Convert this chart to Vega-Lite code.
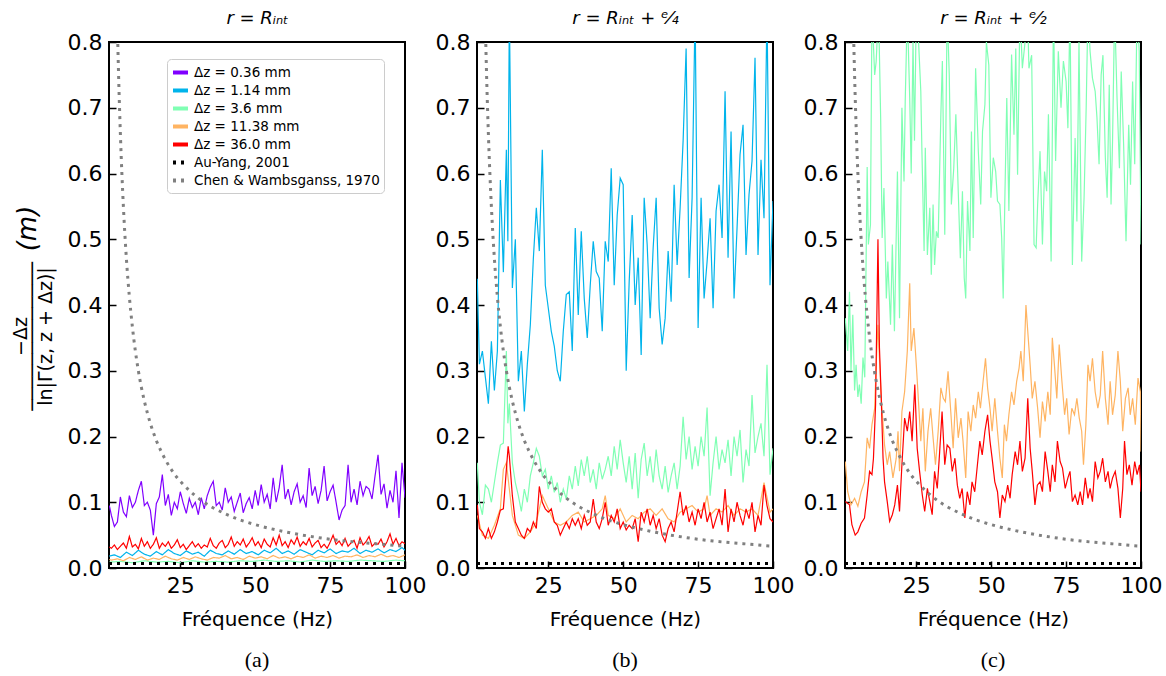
{
"$schema": "https://vega.github.io/schema/vega-lite/v6.json",
"padding": {"left": 10, "top": 8, "right": 5, "bottom": 0},
"config": {
  "font": "DejaVu Sans",
  "view": {"stroke": "#000000", "strokeWidth": 2},
  "axis": {"grid": false, "domain": false, "tickColor": "#000000", "tickWidth": 1.5, "tickSize": -7, "labelPadding": 14, "labelFlush": false, "labelFont": "DejaVu Sans", "labelFontSize": 22, "labelColor": "#000000", "titleFont": "DejaVu Sans", "titleFontSize": 20, "titleFontWeight": "normal", "titleColor": "#000000", "labelOverlap": false}
},
"datasets": {
"au": [{"f":1.2,"v":0.007},{"f":100,"v":0.007}],
"chen": [{"f":3.5,"v":0.943},{"f":4,"v":0.825},{"f":4.5,"v":0.733},{"f":5,"v":0.66},{"f":5.5,"v":0.6},{"f":6,"v":0.55},{"f":7,"v":0.471},{"f":8,"v":0.4125},{"f":9,"v":0.367},{"f":10,"v":0.33},{"f":11,"v":0.3},{"f":12,"v":0.275},{"f":13,"v":0.254},{"f":14,"v":0.236},{"f":15,"v":0.22},{"f":17,"v":0.194},{"f":20,"v":0.165},{"f":23,"v":0.143},{"f":26,"v":0.127},{"f":30,"v":0.11},{"f":35,"v":0.094},{"f":40,"v":0.0825},{"f":45,"v":0.073},{"f":50,"v":0.066},{"f":60,"v":0.055},{"f":70,"v":0.047},{"f":80,"v":0.041},{"f":90,"v":0.037},{"f":100,"v":0.033}],
"aP": [{"f":1.3,"v":0.095},{"f":2,"v":0.08},{"f":3,"v":0.063},{"f":4,"v":0.07},{"f":5,"v":0.108},{"f":6,"v":0.085},{"f":7,"v":0.078},{"f":8,"v":0.11},{"f":9,"v":0.092},{"f":10,"v":0.1},{"f":11,"v":0.118},{"f":12,"v":0.132},{"f":13,"v":0.095},{"f":14,"v":0.1},{"f":15,"v":0.088},{"f":16,"v":0.05},{"f":17,"v":0.098},{"f":18,"v":0.108},{"f":19,"v":0.142},{"f":20,"v":0.095},{"f":21,"v":0.112},{"f":22,"v":0.08},{"f":23,"v":0.1},{"f":24,"v":0.09},{"f":25,"v":0.116},{"f":26,"v":0.098},{"f":27,"v":0.083},{"f":28,"v":0.106},{"f":29,"v":0.092},{"f":30,"v":0.1},{"f":31,"v":0.081},{"f":32,"v":0.107},{"f":33,"v":0.09},{"f":34,"v":0.11},{"f":35,"v":0.123},{"f":36,"v":0.132},{"f":37,"v":0.095},{"f":38,"v":0.1},{"f":39,"v":0.088},{"f":40,"v":0.122},{"f":41,"v":0.1},{"f":42,"v":0.108},{"f":43,"v":0.086},{"f":44,"v":0.1},{"f":45,"v":0.114},{"f":46,"v":0.084},{"f":47,"v":0.098},{"f":48,"v":0.107},{"f":49,"v":0.09},{"f":50,"v":0.118},{"f":51,"v":0.095},{"f":52,"v":0.127},{"f":53,"v":0.1},{"f":54,"v":0.112},{"f":55,"v":0.09},{"f":56,"v":0.137},{"f":57,"v":0.1},{"f":58,"v":0.122},{"f":59,"v":0.157},{"f":60,"v":0.105},{"f":61,"v":0.12},{"f":62,"v":0.096},{"f":63,"v":0.116},{"f":64,"v":0.128},{"f":65,"v":0.1},{"f":66,"v":0.11},{"f":67,"v":0.092},{"f":68,"v":0.152},{"f":69,"v":0.11},{"f":70,"v":0.124},{"f":71,"v":0.098},{"f":72,"v":0.118},{"f":73,"v":0.155},{"f":74,"v":0.102},{"f":75,"v":0.116},{"f":76,"v":0.126},{"f":77,"v":0.1},{"f":78,"v":0.073},{"f":79,"v":0.088},{"f":80,"v":0.095},{"f":81,"v":0.157},{"f":82,"v":0.1},{"f":83,"v":0.12},{"f":84,"v":0.096},{"f":85,"v":0.132},{"f":86,"v":0.11},{"f":87,"v":0.124},{"f":88,"v":0.12},{"f":89,"v":0.105},{"f":90,"v":0.14},{"f":91,"v":0.172},{"f":92,"v":0.112},{"f":93,"v":0.128},{"f":94,"v":0.091},{"f":95,"v":0.118},{"f":96,"v":0.1},{"f":97,"v":0.148},{"f":98,"v":0.076},{"f":99,"v":0.16},{"f":100,"v":0.107}],
"aR": [{"f":1.3,"v":0.032},{"f":2,"v":0.03},{"f":3,"v":0.035},{"f":4,"v":0.028},{"f":5,"v":0.033},{"f":6,"v":0.038},{"f":7,"v":0.03},{"f":8,"v":0.048},{"f":9,"v":0.032},{"f":10,"v":0.036},{"f":11,"v":0.029},{"f":12,"v":0.045},{"f":13,"v":0.033},{"f":14,"v":0.04},{"f":15,"v":0.03},{"f":16,"v":0.036},{"f":17,"v":0.046},{"f":18,"v":0.03},{"f":19,"v":0.038},{"f":20,"v":0.033},{"f":21,"v":0.04},{"f":22,"v":0.03},{"f":23,"v":0.035},{"f":24,"v":0.043},{"f":25,"v":0.031},{"f":26,"v":0.036},{"f":27,"v":0.028},{"f":28,"v":0.034},{"f":29,"v":0.04},{"f":30,"v":0.032},{"f":31,"v":0.037},{"f":32,"v":0.03},{"f":33,"v":0.035},{"f":34,"v":0.032},{"f":35,"v":0.045},{"f":36,"v":0.034},{"f":37,"v":0.03},{"f":38,"v":0.038},{"f":39,"v":0.042},{"f":40,"v":0.031},{"f":41,"v":0.036},{"f":42,"v":0.047},{"f":43,"v":0.033},{"f":44,"v":0.04},{"f":45,"v":0.035},{"f":46,"v":0.044},{"f":47,"v":0.032},{"f":48,"v":0.038},{"f":49,"v":0.046},{"f":50,"v":0.034},{"f":51,"v":0.04},{"f":52,"v":0.031},{"f":53,"v":0.044},{"f":54,"v":0.036},{"f":55,"v":0.032},{"f":56,"v":0.046},{"f":57,"v":0.035},{"f":58,"v":0.05},{"f":59,"v":0.034},{"f":60,"v":0.04},{"f":61,"v":0.031},{"f":62,"v":0.043},{"f":63,"v":0.036},{"f":64,"v":0.047},{"f":65,"v":0.033},{"f":66,"v":0.04},{"f":67,"v":0.035},{"f":68,"v":0.045},{"f":69,"v":0.032},{"f":70,"v":0.038},{"f":71,"v":0.042},{"f":72,"v":0.031},{"f":73,"v":0.036},{"f":74,"v":0.03},{"f":75,"v":0.039},{"f":76,"v":0.05},{"f":77,"v":0.036},{"f":78,"v":0.041},{"f":79,"v":0.034},{"f":80,"v":0.045},{"f":81,"v":0.033},{"f":82,"v":0.038},{"f":83,"v":0.042},{"f":84,"v":0.03},{"f":85,"v":0.046},{"f":86,"v":0.035},{"f":87,"v":0.04},{"f":88,"v":0.048},{"f":89,"v":0.033},{"f":90,"v":0.038},{"f":91,"v":0.036},{"f":92,"v":0.044},{"f":93,"v":0.032},{"f":94,"v":0.04},{"f":95,"v":0.052},{"f":96,"v":0.036},{"f":97,"v":0.045},{"f":98,"v":0.034},{"f":99,"v":0.04},{"f":100,"v":0.037}],
"aB": [{"f":1.3,"v":0.018},{"f":3,"v":0.02},{"f":5,"v":0.016},{"f":7,"v":0.024},{"f":9,"v":0.019},{"f":11,"v":0.027},{"f":13,"v":0.021},{"f":15,"v":0.018},{"f":17,"v":0.025},{"f":19,"v":0.02},{"f":21,"v":0.028},{"f":23,"v":0.022},{"f":25,"v":0.019},{"f":27,"v":0.026},{"f":29,"v":0.021},{"f":31,"v":0.024},{"f":33,"v":0.018},{"f":35,"v":0.027},{"f":37,"v":0.022},{"f":39,"v":0.02},{"f":41,"v":0.026},{"f":43,"v":0.021},{"f":45,"v":0.028},{"f":47,"v":0.022},{"f":49,"v":0.025},{"f":51,"v":0.02},{"f":53,"v":0.027},{"f":55,"v":0.023},{"f":57,"v":0.03},{"f":59,"v":0.022},{"f":61,"v":0.026},{"f":63,"v":0.021},{"f":65,"v":0.028},{"f":67,"v":0.024},{"f":69,"v":0.02},{"f":71,"v":0.027},{"f":73,"v":0.023},{"f":75,"v":0.029},{"f":77,"v":0.022},{"f":79,"v":0.026},{"f":81,"v":0.024},{"f":83,"v":0.03},{"f":85,"v":0.022},{"f":87,"v":0.027},{"f":89,"v":0.024},{"f":91,"v":0.029},{"f":93,"v":0.023},{"f":95,"v":0.028},{"f":97,"v":0.025},{"f":99,"v":0.031},{"f":100,"v":0.027}],
"aO": [{"f":1.3,"v":0.013},{"f":2,"v":0.012},{"f":4,"v":0.014},{"f":6,"v":0.011},{"f":8,"v":0.016},{"f":10,"v":0.013},{"f":12,"v":0.017},{"f":14,"v":0.012},{"f":16,"v":0.015},{"f":18,"v":0.013},{"f":20,"v":0.018},{"f":22,"v":0.014},{"f":24,"v":0.012},{"f":26,"v":0.016},{"f":28,"v":0.013},{"f":30,"v":0.017},{"f":32,"v":0.014},{"f":34,"v":0.012},{"f":36,"v":0.016},{"f":38,"v":0.015},{"f":40,"v":0.019},{"f":42,"v":0.014},{"f":44,"v":0.016},{"f":46,"v":0.013},{"f":48,"v":0.018},{"f":50,"v":0.015},{"f":52,"v":0.017},{"f":54,"v":0.014},{"f":56,"v":0.019},{"f":58,"v":0.015},{"f":60,"v":0.017},{"f":62,"v":0.014},{"f":64,"v":0.018},{"f":66,"v":0.016},{"f":68,"v":0.02},{"f":70,"v":0.015},{"f":72,"v":0.018},{"f":74,"v":0.016},{"f":76,"v":0.019},{"f":78,"v":0.015},{"f":80,"v":0.018},{"f":82,"v":0.017},{"f":84,"v":0.02},{"f":86,"v":0.016},{"f":88,"v":0.019},{"f":90,"v":0.017},{"f":92,"v":0.021},{"f":94,"v":0.017},{"f":96,"v":0.019},{"f":98,"v":0.016},{"f":100,"v":0.02}],
"aG": [{"f":1.3,"v":0.009},{"f":5,"v":0.01},{"f":9,"v":0.008},{"f":13,"v":0.011},{"f":17,"v":0.009},{"f":21,"v":0.01},{"f":25,"v":0.008},{"f":29,"v":0.011},{"f":33,"v":0.009},{"f":37,"v":0.01},{"f":41,"v":0.009},{"f":45,"v":0.011},{"f":49,"v":0.01},{"f":53,"v":0.012},{"f":57,"v":0.01},{"f":61,"v":0.011},{"f":65,"v":0.009},{"f":69,"v":0.012},{"f":73,"v":0.01},{"f":77,"v":0.011},{"f":81,"v":0.01},{"f":85,"v":0.012},{"f":89,"v":0.011},{"f":93,"v":0.01},{"f":97,"v":0.012},{"f":100,"v":0.011}],
"bB": [{"f":1.3,"v":0.44},{"f":2,"v":0.31},{"f":3,"v":0.33},{"f":4,"v":0.29},{"f":5,"v":0.25},{"f":6,"v":0.345},{"f":7,"v":0.27},{"f":8,"v":0.33},{"f":9,"v":0.59},{"f":10,"v":0.45},{"f":11,"v":0.636},{"f":11.5,"v":0.497},{"f":12,"v":0.85},{"f":13,"v":0.426},{"f":14,"v":0.5},{"f":15,"v":0.284},{"f":16,"v":0.33},{"f":17,"v":0.238},{"f":18,"v":0.31},{"f":19,"v":0.37},{"f":20,"v":0.47},{"f":21,"v":0.548},{"f":22,"v":0.482},{"f":23,"v":0.636},{"f":24,"v":0.43},{"f":25,"v":0.395},{"f":26,"v":0.36},{"f":27,"v":0.337},{"f":28,"v":0.3},{"f":29,"v":0.284},{"f":30,"v":0.36},{"f":31,"v":0.416},{"f":32,"v":0.42},{"f":33,"v":0.33},{"f":34,"v":0.517},{"f":35,"v":0.385},{"f":36,"v":0.512},{"f":37,"v":0.41},{"f":38,"v":0.35},{"f":39,"v":0.43},{"f":40,"v":0.497},{"f":41,"v":0.451},{"f":42,"v":0.441},{"f":43,"v":0.36},{"f":44,"v":0.497},{"f":45,"v":0.466},{"f":46,"v":0.608},{"f":47,"v":0.43},{"f":48,"v":0.537},{"f":49,"v":0.593},{"f":50,"v":0.583},{"f":51,"v":0.3},{"f":52,"v":0.436},{"f":53,"v":0.537},{"f":54,"v":0.4},{"f":55,"v":0.472},{"f":56,"v":0.324},{"f":57,"v":0.563},{"f":58,"v":0.492},{"f":59,"v":0.38},{"f":60,"v":0.487},{"f":61,"v":0.563},{"f":62,"v":0.395},{"f":63,"v":0.34},{"f":64,"v":0.38},{"f":65,"v":0.482},{"f":66,"v":0.405},{"f":67,"v":0.583},{"f":68,"v":0.461},{"f":69,"v":0.548},{"f":70,"v":0.65},{"f":71,"v":0.79},{"f":72,"v":0.441},{"f":73,"v":0.563},{"f":74,"v":0.85},{"f":75,"v":0.365},{"f":76,"v":0.563},{"f":77,"v":0.41},{"f":78,"v":0.466},{"f":79,"v":0.532},{"f":80,"v":0.395},{"f":81,"v":0.543},{"f":82,"v":0.583},{"f":83,"v":0.502},{"f":84,"v":0.725},{"f":85,"v":0.472},{"f":86,"v":0.664},{"f":87,"v":0.41},{"f":88,"v":0.517},{"f":89,"v":0.629},{"f":90,"v":0.674},{"f":91,"v":0.476},{"f":92,"v":0.568},{"f":93,"v":0.619},{"f":94,"v":0.776},{"f":95,"v":0.476},{"f":96,"v":0.621},{"f":97,"v":0.532},{"f":98,"v":0.85},{"f":99,"v":0.43},{"f":100,"v":0.558}],
"bG": [{"f":1.3,"v":0.16},{"f":2,"v":0.1},{"f":3,"v":0.081},{"f":4,"v":0.126},{"f":5,"v":0.12},{"f":6,"v":0.1},{"f":7,"v":0.13},{"f":8,"v":0.16},{"f":9,"v":0.187},{"f":10,"v":0.19},{"f":11,"v":0.33},{"f":11.5,"v":0.22},{"f":12,"v":0.25},{"f":13,"v":0.16},{"f":14,"v":0.13},{"f":15,"v":0.11},{"f":16,"v":0.086},{"f":17,"v":0.12},{"f":18,"v":0.1},{"f":19,"v":0.14},{"f":20,"v":0.16},{"f":21,"v":0.182},{"f":22,"v":0.17},{"f":23,"v":0.14},{"f":24,"v":0.15},{"f":25,"v":0.12},{"f":26,"v":0.14},{"f":27,"v":0.115},{"f":28,"v":0.13},{"f":29,"v":0.1},{"f":30,"v":0.12},{"f":31,"v":0.105},{"f":32,"v":0.14},{"f":33,"v":0.12},{"f":34,"v":0.155},{"f":35,"v":0.125},{"f":36,"v":0.165},{"f":37,"v":0.14},{"f":38,"v":0.17},{"f":39,"v":0.13},{"f":40,"v":0.15},{"f":41,"v":0.12},{"f":42,"v":0.16},{"f":43,"v":0.135},{"f":44,"v":0.15},{"f":45,"v":0.17},{"f":46,"v":0.14},{"f":47,"v":0.185},{"f":48,"v":0.15},{"f":49,"v":0.195},{"f":50,"v":0.16},{"f":51,"v":0.13},{"f":52,"v":0.17},{"f":53,"v":0.12},{"f":54,"v":0.175},{"f":55,"v":0.106},{"f":56,"v":0.165},{"f":57,"v":0.19},{"f":58,"v":0.14},{"f":59,"v":0.17},{"f":60,"v":0.13},{"f":61,"v":0.18},{"f":62,"v":0.14},{"f":63,"v":0.12},{"f":64,"v":0.155},{"f":65,"v":0.115},{"f":66,"v":0.14},{"f":67,"v":0.16},{"f":68,"v":0.12},{"f":69,"v":0.155},{"f":70,"v":0.23},{"f":71,"v":0.165},{"f":72,"v":0.2},{"f":73,"v":0.15},{"f":74,"v":0.185},{"f":75,"v":0.155},{"f":76,"v":0.2},{"f":77,"v":0.17},{"f":78,"v":0.244},{"f":79,"v":0.11},{"f":80,"v":0.16},{"f":81,"v":0.2},{"f":82,"v":0.15},{"f":83,"v":0.18},{"f":84,"v":0.16},{"f":85,"v":0.195},{"f":86,"v":0.14},{"f":87,"v":0.2},{"f":88,"v":0.17},{"f":89,"v":0.21},{"f":90,"v":0.13},{"f":91,"v":0.18},{"f":92,"v":0.155},{"f":93,"v":0.263},{"f":94,"v":0.175},{"f":95,"v":0.2},{"f":96,"v":0.22},{"f":97,"v":0.17},{"f":98,"v":0.309},{"f":99,"v":0.142},{"f":100,"v":0.182}],
"bO": [{"f":1.3,"v":0.08},{"f":3,"v":0.05},{"f":5,"v":0.045},{"f":7,"v":0.065},{"f":9,"v":0.09},{"f":10,"v":0.15},{"f":11,"v":0.16},{"f":13,"v":0.08},{"f":15,"v":0.05},{"f":17,"v":0.045},{"f":19,"v":0.055},{"f":21,"v":0.07},{"f":23,"v":0.11},{"f":25,"v":0.09},{"f":27,"v":0.07},{"f":29,"v":0.065},{"f":31,"v":0.07},{"f":33,"v":0.08},{"f":35,"v":0.085},{"f":37,"v":0.07},{"f":39,"v":0.075},{"f":41,"v":0.08},{"f":43,"v":0.09},{"f":44,"v":0.11},{"f":45,"v":0.08},{"f":47,"v":0.075},{"f":49,"v":0.09},{"f":51,"v":0.07},{"f":53,"v":0.08},{"f":55,"v":0.075},{"f":57,"v":0.085},{"f":59,"v":0.09},{"f":61,"v":0.08},{"f":63,"v":0.09},{"f":65,"v":0.075},{"f":67,"v":0.07},{"f":69,"v":0.085},{"f":71,"v":0.09},{"f":73,"v":0.095},{"f":75,"v":0.085},{"f":77,"v":0.09},{"f":78,"v":0.11},{"f":79,"v":0.08},{"f":81,"v":0.09},{"f":83,"v":0.085},{"f":85,"v":0.095},{"f":87,"v":0.08},{"f":89,"v":0.09},{"f":91,"v":0.085},{"f":93,"v":0.09},{"f":95,"v":0.08},{"f":97,"v":0.13},{"f":99,"v":0.085},{"f":100,"v":0.09}],
"bR": [{"f":1.3,"v":0.096},{"f":2,"v":0.06},{"f":3,"v":0.055},{"f":4,"v":0.045},{"f":5,"v":0.06},{"f":6,"v":0.045},{"f":7,"v":0.055},{"f":8,"v":0.07},{"f":9,"v":0.088},{"f":10,"v":0.09},{"f":11,"v":0.15},{"f":11.6,"v":0.185},{"f":12,"v":0.17},{"f":13,"v":0.11},{"f":14,"v":0.07},{"f":15,"v":0.06},{"f":16,"v":0.05},{"f":17,"v":0.045},{"f":18,"v":0.06},{"f":19,"v":0.055},{"f":20,"v":0.07},{"f":21,"v":0.06},{"f":22,"v":0.124},{"f":23,"v":0.1},{"f":24,"v":0.09},{"f":25,"v":0.085},{"f":26,"v":0.09},{"f":27,"v":0.07},{"f":28,"v":0.065},{"f":29,"v":0.05},{"f":30,"v":0.06},{"f":31,"v":0.07},{"f":32,"v":0.06},{"f":33,"v":0.075},{"f":34,"v":0.065},{"f":35,"v":0.075},{"f":36,"v":0.06},{"f":37,"v":0.08},{"f":38,"v":0.065},{"f":39,"v":0.07},{"f":40,"v":0.105},{"f":41,"v":0.07},{"f":42,"v":0.06},{"f":43,"v":0.075},{"f":44,"v":0.1},{"f":45,"v":0.065},{"f":46,"v":0.08},{"f":47,"v":0.07},{"f":48,"v":0.09},{"f":49,"v":0.06},{"f":50,"v":0.07},{"f":51,"v":0.058},{"f":52,"v":0.065},{"f":53,"v":0.06},{"f":54,"v":0.075},{"f":55,"v":0.04},{"f":56,"v":0.085},{"f":57,"v":0.07},{"f":58,"v":0.09},{"f":59,"v":0.065},{"f":60,"v":0.08},{"f":61,"v":0.06},{"f":62,"v":0.075},{"f":63,"v":0.05},{"f":64,"v":0.04},{"f":65,"v":0.06},{"f":66,"v":0.07},{"f":67,"v":0.055},{"f":68,"v":0.085},{"f":69,"v":0.116},{"f":70,"v":0.08},{"f":71,"v":0.095},{"f":72,"v":0.07},{"f":73,"v":0.085},{"f":74,"v":0.065},{"f":75,"v":0.09},{"f":76,"v":0.075},{"f":77,"v":0.1},{"f":78,"v":0.07},{"f":79,"v":0.085},{"f":80,"v":0.06},{"f":81,"v":0.075},{"f":82,"v":0.09},{"f":83,"v":0.065},{"f":84,"v":0.12},{"f":85,"v":0.055},{"f":86,"v":0.09},{"f":87,"v":0.07},{"f":88,"v":0.1},{"f":89,"v":0.08},{"f":90,"v":0.065},{"f":91,"v":0.09},{"f":92,"v":0.075},{"f":93,"v":0.1},{"f":94,"v":0.055},{"f":95,"v":0.08},{"f":96,"v":0.065},{"f":97,"v":0.126},{"f":98,"v":0.095},{"f":99,"v":0.075},{"f":100,"v":0.07}],
"cG": [{"f":1.3,"v":0.38},{"f":2.1,"v":0.33},{"f":2.7,"v":0.42},{"f":3.2,"v":0.3},{"f":3.8,"v":0.385},{"f":4.4,"v":0.27},{"f":4.9,"v":0.309},{"f":5.5,"v":0.26},{"f":6,"v":0.279},{"f":6.6,"v":0.25},{"f":7.2,"v":0.32},{"f":7.8,"v":0.29},{"f":8.6,"v":0.61},{"f":9,"v":0.492},{"f":9.7,"v":0.522},{"f":10.2,"v":0.85},{"f":11.1,"v":0.75},{"f":11.6,"v":0.77},{"f":12.4,"v":0.85},{"f":13.1,"v":0.685},{"f":13.6,"v":0.502},{"f":14.2,"v":0.578},{"f":15,"v":0.41},{"f":15.5,"v":0.466},{"f":16.4,"v":0.37},{"f":17,"v":0.492},{"f":17.7,"v":0.36},{"f":18.7,"v":0.603},{"f":19.4,"v":0.38},{"f":20.2,"v":0.7},{"f":20.9,"v":0.588},{"f":21.3,"v":0.71},{"f":22,"v":0.85},{"f":22.8,"v":0.715},{"f":23.3,"v":0.6},{"f":23.9,"v":0.8},{"f":24.4,"v":0.65},{"f":25,"v":0.85},{"f":25.8,"v":0.796},{"f":26.5,"v":0.725},{"f":26.9,"v":0.629},{"f":27.6,"v":0.482},{"f":28,"v":0.639},{"f":28.7,"v":0.476},{"f":29.5,"v":0.548},{"f":30,"v":0.446},{"f":30.6,"v":0.553},{"f":31.1,"v":0.461},{"f":31.7,"v":0.512},{"f":32.3,"v":0.502},{"f":33.2,"v":0.69},{"f":33.7,"v":0.771},{"f":34.5,"v":0.507},{"f":35.3,"v":0.85},{"f":36,"v":0.75},{"f":36.7,"v":0.553},{"f":37.5,"v":0.608},{"f":38.2,"v":0.69},{"f":39,"v":0.573},{"f":39.7,"v":0.471},{"f":40.4,"v":0.573},{"f":41,"v":0.441},{"f":41.5,"v":0.41},{"f":42.1,"v":0.558},{"f":42.9,"v":0.482},{"f":43.4,"v":0.664},{"f":44,"v":0.502},{"f":44.8,"v":0.76},{"f":45.7,"v":0.634},{"f":46.5,"v":0.553},{"f":47.1,"v":0.664},{"f":47.9,"v":0.705},{"f":48.4,"v":0.8},{"f":49.2,"v":0.765},{"f":49.9,"v":0.563},{"f":50.7,"v":0.624},{"f":51.5,"v":0.603},{"f":52.1,"v":0.558},{"f":52.9,"v":0.553},{"f":53.5,"v":0.502},{"f":54,"v":0.41},{"f":54.6,"v":0.573},{"f":55.2,"v":0.715},{"f":55.9,"v":0.543},{"f":56.8,"v":0.781},{"f":57.6,"v":0.659},{"f":58.2,"v":0.79},{"f":58.8,"v":0.598},{"f":59.6,"v":0.85},{"f":60.4,"v":0.76},{"f":61.3,"v":0.8},{"f":62.1,"v":0.85},{"f":62.6,"v":0.76},{"f":63.5,"v":0.78},{"f":64.3,"v":0.492},{"f":65,"v":0.487},{"f":65.5,"v":0.553},{"f":66.3,"v":0.634},{"f":67.1,"v":0.492},{"f":67.8,"v":0.603},{"f":68.5,"v":0.573},{"f":69.1,"v":0.69},{"f":70,"v":0.466},{"f":70.8,"v":0.85},{"f":71.5,"v":0.619},{"f":72.4,"v":0.786},{"f":73.3,"v":0.7},{"f":74.1,"v":0.771},{"f":75,"v":0.74},{"f":75.6,"v":0.669},{"f":76.3,"v":0.85},{"f":77.1,"v":0.461},{"f":78,"v":0.654},{"f":78.6,"v":0.527},{"f":79.3,"v":0.8},{"f":80.2,"v":0.466},{"f":81,"v":0.563},{"f":81.7,"v":0.7},{"f":82.3,"v":0.85},{"f":83,"v":0.786},{"f":83.8,"v":0.745},{"f":84.7,"v":0.725},{"f":85.3,"v":0.685},{"f":86,"v":0.614},{"f":86.7,"v":0.75},{"f":87.3,"v":0.78},{"f":88.1,"v":0.624},{"f":88.7,"v":0.563},{"f":89.4,"v":0.735},{"f":90,"v":0.553},{"f":90.5,"v":0.649},{"f":91.2,"v":0.85},{"f":92,"v":0.715},{"f":92.8,"v":0.608},{"f":93.4,"v":0.755},{"f":94.2,"v":0.644},{"f":95,"v":0.497},{"f":95.9,"v":0.674},{"f":96.5,"v":0.583},{"f":97.2,"v":0.74},{"f":97.9,"v":0.614},{"f":98.7,"v":0.85},{"f":99.4,"v":0.786},{"f":100,"v":0.492}],
"cO": [{"f":1.3,"v":0.162},{"f":2.1,"v":0.116},{"f":3.2,"v":0.096},{"f":4.4,"v":0.106},{"f":5.5,"v":0.094},{"f":6.6,"v":0.116},{"f":7.7,"v":0.131},{"f":8.6,"v":0.198},{"f":9.4,"v":0.182},{"f":10.2,"v":0.218},{"f":11.1,"v":0.243},{"f":11.6,"v":0.309},{"f":12.2,"v":0.37},{"f":13.3,"v":0.258},{"f":14.4,"v":0.187},{"f":15.3,"v":0.157},{"f":16.1,"v":0.177},{"f":17.2,"v":0.137},{"f":18.3,"v":0.167},{"f":18.9,"v":0.208},{"f":19.4,"v":0.147},{"f":20.2,"v":0.238},{"f":21.1,"v":0.268},{"f":22,"v":0.33},{"f":22.8,"v":0.433},{"f":23.3,"v":0.33},{"f":24.2,"v":0.365},{"f":25,"v":0.309},{"f":25.6,"v":0.263},{"f":26.5,"v":0.193},{"f":27.2,"v":0.243},{"f":28,"v":0.147},{"f":28.9,"v":0.208},{"f":29.8,"v":0.243},{"f":30.6,"v":0.198},{"f":31.4,"v":0.157},{"f":32.3,"v":0.208},{"f":33.2,"v":0.274},{"f":34,"v":0.258},{"f":34.7,"v":0.253},{"f":35.6,"v":0.299},{"f":36.5,"v":0.238},{"f":37.3,"v":0.182},{"f":38.1,"v":0.258},{"f":39,"v":0.198},{"f":39.9,"v":0.228},{"f":40.6,"v":0.193},{"f":41.5,"v":0.137},{"f":42.3,"v":0.238},{"f":43.2,"v":0.208},{"f":44,"v":0.248},{"f":44.8,"v":0.228},{"f":45.7,"v":0.268},{"f":46.4,"v":0.243},{"f":47.3,"v":0.284},{"f":48.1,"v":0.319},{"f":48.8,"v":0.274},{"f":49.6,"v":0.243},{"f":50.3,"v":0.208},{"f":51.2,"v":0.258},{"f":52.1,"v":0.208},{"f":52.9,"v":0.167},{"f":53.7,"v":0.137},{"f":54.4,"v":0.218},{"f":55.1,"v":0.193},{"f":55.9,"v":0.233},{"f":56.8,"v":0.268},{"f":57.6,"v":0.248},{"f":58.5,"v":0.284},{"f":59.3,"v":0.304},{"f":59.9,"v":0.33},{"f":60.7,"v":0.284},{"f":61.6,"v":0.4},{"f":62.2,"v":0.36},{"f":63,"v":0.309},{"f":63.7,"v":0.258},{"f":64.6,"v":0.284},{"f":65.5,"v":0.243},{"f":66.3,"v":0.198},{"f":67.1,"v":0.253},{"f":68,"v":0.223},{"f":68.9,"v":0.268},{"f":69.7,"v":0.233},{"f":70.4,"v":0.35},{"f":71.1,"v":0.309},{"f":71.9,"v":0.258},{"f":72.7,"v":0.34},{"f":73.6,"v":0.284},{"f":74.5,"v":0.233},{"f":75.2,"v":0.258},{"f":76,"v":0.203},{"f":76.9,"v":0.243},{"f":77.8,"v":0.233},{"f":78.6,"v":0.258},{"f":79.4,"v":0.228},{"f":80.2,"v":0.208},{"f":80.8,"v":0.157},{"f":81.6,"v":0.218},{"f":82.3,"v":0.309},{"f":83,"v":0.284},{"f":83.8,"v":0.319},{"f":84.7,"v":0.268},{"f":85.6,"v":0.243},{"f":86.4,"v":0.263},{"f":87.2,"v":0.33},{"f":88.1,"v":0.258},{"f":89,"v":0.218},{"f":89.7,"v":0.284},{"f":90.5,"v":0.233},{"f":91.4,"v":0.263},{"f":92.3,"v":0.33},{"f":93.1,"v":0.284},{"f":93.9,"v":0.208},{"f":94.8,"v":0.258},{"f":95.7,"v":0.274},{"f":96.4,"v":0.233},{"f":97.2,"v":0.258},{"f":98.1,"v":0.218},{"f":99,"v":0.289},{"f":99.8,"v":0.268},{"f":100,"v":0.177}],
"cR": [{"f":1.3,"v":0.101},{"f":2.7,"v":0.096},{"f":3.5,"v":0.066},{"f":4.6,"v":0.05},{"f":5.5,"v":0.055},{"f":6.6,"v":0.068},{"f":7.7,"v":0.076},{"f":8.6,"v":0.111},{"f":9.4,"v":0.147},{"f":10.2,"v":0.142},{"f":10.7,"v":0.167},{"f":11.4,"v":0.248},{"f":12.2,"v":0.5},{"f":12.7,"v":0.335},{"f":13.3,"v":0.258},{"f":13.9,"v":0.167},{"f":14.4,"v":0.131},{"f":15.3,"v":0.101},{"f":16.1,"v":0.071},{"f":17,"v":0.081},{"f":17.8,"v":0.096},{"f":18.7,"v":0.126},{"f":19.4,"v":0.086},{"f":20.2,"v":0.157},{"f":21.1,"v":0.228},{"f":22,"v":0.208},{"f":22.8,"v":0.238},{"f":23.6,"v":0.193},{"f":24.5,"v":0.279},{"f":25.3,"v":0.182},{"f":26.1,"v":0.147},{"f":27,"v":0.111},{"f":27.8,"v":0.086},{"f":28.7,"v":0.121},{"f":29.5,"v":0.101},{"f":30.3,"v":0.081},{"f":31.1,"v":0.147},{"f":32,"v":0.121},{"f":32.8,"v":0.177},{"f":33.6,"v":0.238},{"f":34.5,"v":0.157},{"f":35.3,"v":0.187},{"f":36.2,"v":0.182},{"f":37,"v":0.147},{"f":37.9,"v":0.167},{"f":38.7,"v":0.126},{"f":39.5,"v":0.106},{"f":40.3,"v":0.121},{"f":41.2,"v":0.076},{"f":42,"v":0.116},{"f":42.9,"v":0.096},{"f":43.6,"v":0.131},{"f":44.5,"v":0.116},{"f":45.4,"v":0.157},{"f":46.2,"v":0.193},{"f":47,"v":0.172},{"f":47.9,"v":0.208},{"f":48.8,"v":0.233},{"f":49.6,"v":0.193},{"f":50.3,"v":0.167},{"f":51.2,"v":0.131},{"f":52.1,"v":0.116},{"f":52.9,"v":0.076},{"f":53.7,"v":0.111},{"f":54.6,"v":0.101},{"f":55.5,"v":0.126},{"f":56.3,"v":0.106},{"f":57,"v":0.142},{"f":58,"v":0.177},{"f":58.8,"v":0.157},{"f":59.6,"v":0.193},{"f":60.4,"v":0.147},{"f":61.3,"v":0.167},{"f":62.2,"v":0.258},{"f":63,"v":0.182},{"f":63.7,"v":0.147},{"f":64.6,"v":0.096},{"f":65.4,"v":0.126},{"f":66.3,"v":0.131},{"f":67.1,"v":0.116},{"f":68,"v":0.177},{"f":68.9,"v":0.147},{"f":69.7,"v":0.116},{"f":70.4,"v":0.157},{"f":71.3,"v":0.131},{"f":72.1,"v":0.193},{"f":73,"v":0.162},{"f":73.8,"v":0.152},{"f":74.7,"v":0.121},{"f":75.6,"v":0.137},{"f":76.3,"v":0.147},{"f":77.1,"v":0.101},{"f":78,"v":0.111},{"f":78.9,"v":0.096},{"f":79.7,"v":0.116},{"f":80.5,"v":0.096},{"f":81.4,"v":0.137},{"f":82.3,"v":0.106},{"f":83,"v":0.121},{"f":83.8,"v":0.101},{"f":84.7,"v":0.162},{"f":85.6,"v":0.137},{"f":86.4,"v":0.147},{"f":87.2,"v":0.167},{"f":88.1,"v":0.131},{"f":89,"v":0.147},{"f":89.7,"v":0.121},{"f":90.5,"v":0.137},{"f":91.4,"v":0.147},{"f":92.3,"v":0.121},{"f":93.1,"v":0.076},{"f":93.9,"v":0.121},{"f":94.5,"v":0.193},{"f":95.3,"v":0.142},{"f":96.1,"v":0.157},{"f":97,"v":0.126},{"f":97.9,"v":0.162},{"f":98.7,"v":0.142},{"f":99.5,"v":0.157},{"f":100,"v":0.116}]
},
"spacing": 7,
"hconcat": [
{
  "width": 296, "height": 526,
  "title": {"text": "(a)", "orient": "bottom", "font": "Liberation Serif", "fontSize": 22, "fontWeight": "normal", "color": "#000000", "offset": 21},
  "resolve": {"axis": {"x": "independent", "y": "independent"}},
  "layer": [
    {
      "encoding": {
        "x": {"field": "f", "type": "quantitative", "scale": {"domain": [1.2, 100], "nice": false, "zero": false}, "axis": {"orient": "bottom", "values": [25, 50, 75, 100], "title": "Fréquence (Hz)", "titlePadding": 13}},
        "y": {"field": "v", "type": "quantitative", "scale": {"domain": [0, 0.8], "nice": false}, "axis": {"orient": "left", "values": [0, 0.1, 0.2, 0.3, 0.4, 0.5, 0.6, 0.7, 0.8], "format": ".1f", "title": ["\u2212\u0394z", "\u2500\u2500\u2500\u2500\u2500\u2500\u2500\u2500\u2500\u2500\u2500\u2500\u2500", "ln|\u0393(z, z + \u0394z)|"], "titleFontSize": 19, "titleLineHeight": 12.5, "titleAngle": 270, "titleAlign": "center", "titleBaseline": "middle", "titleX": -89, "titleY": 294}}
      },
      "layer": [
        {"data": {"name": "aP"}, "mark": {"type": "line", "clip": true, "strokeWidth": 1.2},
         "encoding": {
           "color": {"datum": "Δz = 0.36 mm", "type": "nominal", "scale": {"domain": ["Δz = 0.36 mm", "Δz = 1.14 mm", "Δz = 3.6 mm", "Δz = 11.38 mm", "Δz = 36.0 mm", "Au-Yang, 2001", "Chen & Wambsganss, 1970"], "range": ["#8000ff", "#00b4eb", "#80ffb4", "#ffb462", "#ff0000", "#000000", "#808080"]},
             "legend": {"orient": "none", "legendX": 58, "legendY": 17, "title": null, "symbolType": "stroke", "symbolStrokeWidth": 4, "symbolSize": 225, "labelFont": "DejaVu Sans", "labelFontSize": 13.5, "labelColor": "#000000", "labelLimit": 400, "fillColor": "#ffffff", "strokeColor": "#cccccc", "cornerRadius": 4, "padding": 4, "rowPadding": 0}},
           "strokeDash": {"datum": "Δz = 0.36 mm", "type": "nominal", "scale": {"domain": ["Δz = 0.36 mm", "Δz = 1.14 mm", "Δz = 3.6 mm", "Δz = 11.38 mm", "Δz = 36.0 mm", "Au-Yang, 2001", "Chen & Wambsganss, 1970"], "range": [[1, 0], [1, 0], [1, 0], [1, 0], [1, 0], [3, 5], [3, 5]]},
             "legend": {"orient": "none", "legendX": 58, "legendY": 17, "title": null, "symbolType": "stroke", "symbolStrokeWidth": 4, "symbolSize": 225, "labelFont": "DejaVu Sans", "labelFontSize": 13.5, "labelColor": "#000000", "labelLimit": 400, "fillColor": "#ffffff", "strokeColor": "#cccccc", "cornerRadius": 4, "padding": 4, "rowPadding": 0}}
         }},
        {"data": {"name": "aB"}, "mark": {"type": "line", "clip": true, "strokeWidth": 1.2}, "encoding": {"color": {"datum": "Δz = 1.14 mm", "type": "nominal"}, "strokeDash": {"datum": "Δz = 1.14 mm", "type": "nominal"}}},
        {"data": {"name": "aG"}, "mark": {"type": "line", "clip": true, "strokeWidth": 1.2}, "encoding": {"color": {"datum": "Δz = 3.6 mm", "type": "nominal"}, "strokeDash": {"datum": "Δz = 3.6 mm", "type": "nominal"}}},
        {"data": {"name": "aO"}, "mark": {"type": "line", "clip": true, "strokeWidth": 1.2}, "encoding": {"color": {"datum": "Δz = 11.38 mm", "type": "nominal"}, "strokeDash": {"datum": "Δz = 11.38 mm", "type": "nominal"}}},
        {"data": {"name": "aR"}, "mark": {"type": "line", "clip": true, "strokeWidth": 1.2}, "encoding": {"color": {"datum": "Δz = 36.0 mm", "type": "nominal"}, "strokeDash": {"datum": "Δz = 36.0 mm", "type": "nominal"}}},
        {"data": {"name": "au"}, "mark": {"type": "line", "clip": true, "strokeWidth": 3}, "encoding": {"color": {"datum": "Au-Yang, 2001", "type": "nominal"}, "strokeDash": {"datum": "Au-Yang, 2001", "type": "nominal"}}},
        {"data": {"name": "chen"}, "mark": {"type": "line", "clip": true, "strokeWidth": 3, "interpolate": "monotone"}, "encoding": {"color": {"datum": "Chen & Wambsganss, 1970", "type": "nominal"}, "strokeDash": {"datum": "Chen & Wambsganss, 1970", "type": "nominal"}}}
      ]
    },
    {
      "data": {"name": "au"},
      "mark": {"type": "point", "opacity": 0},
      "encoding": {
        "x": {"field": "f", "type": "quantitative", "scale": {"domain": [1.2, 100], "nice": false, "zero": false}, "axis": {"orient": "top", "title": "r = Rᵢₙₜ", "labels": false, "ticks": false, "domain": false, "titleFontSize": 18, "titleFontStyle": "italic", "titlePadding": 15}},
        "y": {"field": "v", "type": "quantitative", "scale": {"domain": [0, 0.8], "nice": false}, "axis": {"orient": "right", "title": "(m)", "labels": false, "ticks": false, "domain": false, "titleFontSize": 26, "titleFontStyle": "italic", "titleAngle": 270, "titleAlign": "center", "titleBaseline": "middle", "titleX": -378, "titleY": 186}}
      }
    }
  ]
},
{
  "width": 296, "height": 526,
  "title": {"text": "(b)", "orient": "bottom", "font": "Liberation Serif", "fontSize": 22, "fontWeight": "normal", "color": "#000000", "offset": 21},
  "resolve": {"axis": {"x": "independent"}},
  "layer": [
    {
      "encoding": {
        "x": {"field": "f", "type": "quantitative", "scale": {"domain": [1.2, 100], "nice": false, "zero": false}, "axis": {"orient": "bottom", "values": [25, 50, 75, 100], "title": "Fréquence (Hz)", "titlePadding": 13}},
        "y": {"field": "v", "type": "quantitative", "scale": {"domain": [0, 0.8], "nice": false}, "axis": {"values": [0, 0.1, 0.2, 0.3, 0.4, 0.5, 0.6, 0.7, 0.8], "format": ".1f", "title": null}}
      },
      "layer": [
        {"data": {"name": "bB"}, "mark": {"type": "line", "clip": true, "strokeWidth": 1.2, "color": "#00b4eb"}},
        {"data": {"name": "bG"}, "mark": {"type": "line", "clip": true, "strokeWidth": 1.2, "color": "#80ffb4"}},
        {"data": {"name": "bO"}, "mark": {"type": "line", "clip": true, "strokeWidth": 1.2, "color": "#ffb462"}},
        {"data": {"name": "bR"}, "mark": {"type": "line", "clip": true, "strokeWidth": 1.2, "color": "#ff0000"}},
        {"data": {"name": "au"}, "mark": {"type": "line", "clip": true, "strokeWidth": 3, "color": "#000000", "strokeDash": [3, 5]}},
        {"data": {"name": "chen"}, "mark": {"type": "line", "clip": true, "strokeWidth": 3, "color": "#808080", "strokeDash": [3, 5], "interpolate": "monotone"}}
      ]
    },
    {
      "data": {"name": "au"},
      "mark": {"type": "point", "opacity": 0},
      "encoding": {
        "x": {"field": "f", "type": "quantitative", "scale": {"domain": [1.2, 100], "nice": false, "zero": false}, "axis": {"orient": "top", "title": "r = Rᵢₙₜ + ᵉ⁄₄", "labels": false, "ticks": false, "domain": false, "titleFontSize": 18, "titleFontStyle": "italic", "titlePadding": 15}}
      }
    }
  ]
},
{
  "width": 296, "height": 526,
  "title": {"text": "(c)", "orient": "bottom", "font": "Liberation Serif", "fontSize": 22, "fontWeight": "normal", "color": "#000000", "offset": 21},
  "resolve": {"axis": {"x": "independent"}},
  "layer": [
    {
      "encoding": {
        "x": {"field": "f", "type": "quantitative", "scale": {"domain": [1.2, 100], "nice": false, "zero": false}, "axis": {"orient": "bottom", "values": [25, 50, 75, 100], "title": "Fréquence (Hz)", "titlePadding": 13}},
        "y": {"field": "v", "type": "quantitative", "scale": {"domain": [0, 0.8], "nice": false}, "axis": {"values": [0, 0.1, 0.2, 0.3, 0.4, 0.5, 0.6, 0.7, 0.8], "format": ".1f", "title": null}}
      },
      "layer": [
        {"data": {"name": "cG"}, "mark": {"type": "line", "clip": true, "strokeWidth": 1.2, "color": "#80ffb4"}},
        {"data": {"name": "cO"}, "mark": {"type": "line", "clip": true, "strokeWidth": 1.2, "color": "#ffb462"}},
        {"data": {"name": "cR"}, "mark": {"type": "line", "clip": true, "strokeWidth": 1.2, "color": "#ff0000"}},
        {"data": {"name": "au"}, "mark": {"type": "line", "clip": true, "strokeWidth": 3, "color": "#000000", "strokeDash": [3, 5]}},
        {"data": {"name": "chen"}, "mark": {"type": "line", "clip": true, "strokeWidth": 3, "color": "#808080", "strokeDash": [3, 5], "interpolate": "monotone"}}
      ]
    },
    {
      "data": {"name": "au"},
      "mark": {"type": "point", "opacity": 0},
      "encoding": {
        "x": {"field": "f", "type": "quantitative", "scale": {"domain": [1.2, 100], "nice": false, "zero": false}, "axis": {"orient": "top", "title": "r = Rᵢₙₜ + ᵉ⁄₂", "labels": false, "ticks": false, "domain": false, "titleFontSize": 18, "titleFontStyle": "italic", "titlePadding": 15}}
      }
    }
  ]
}
]
}
